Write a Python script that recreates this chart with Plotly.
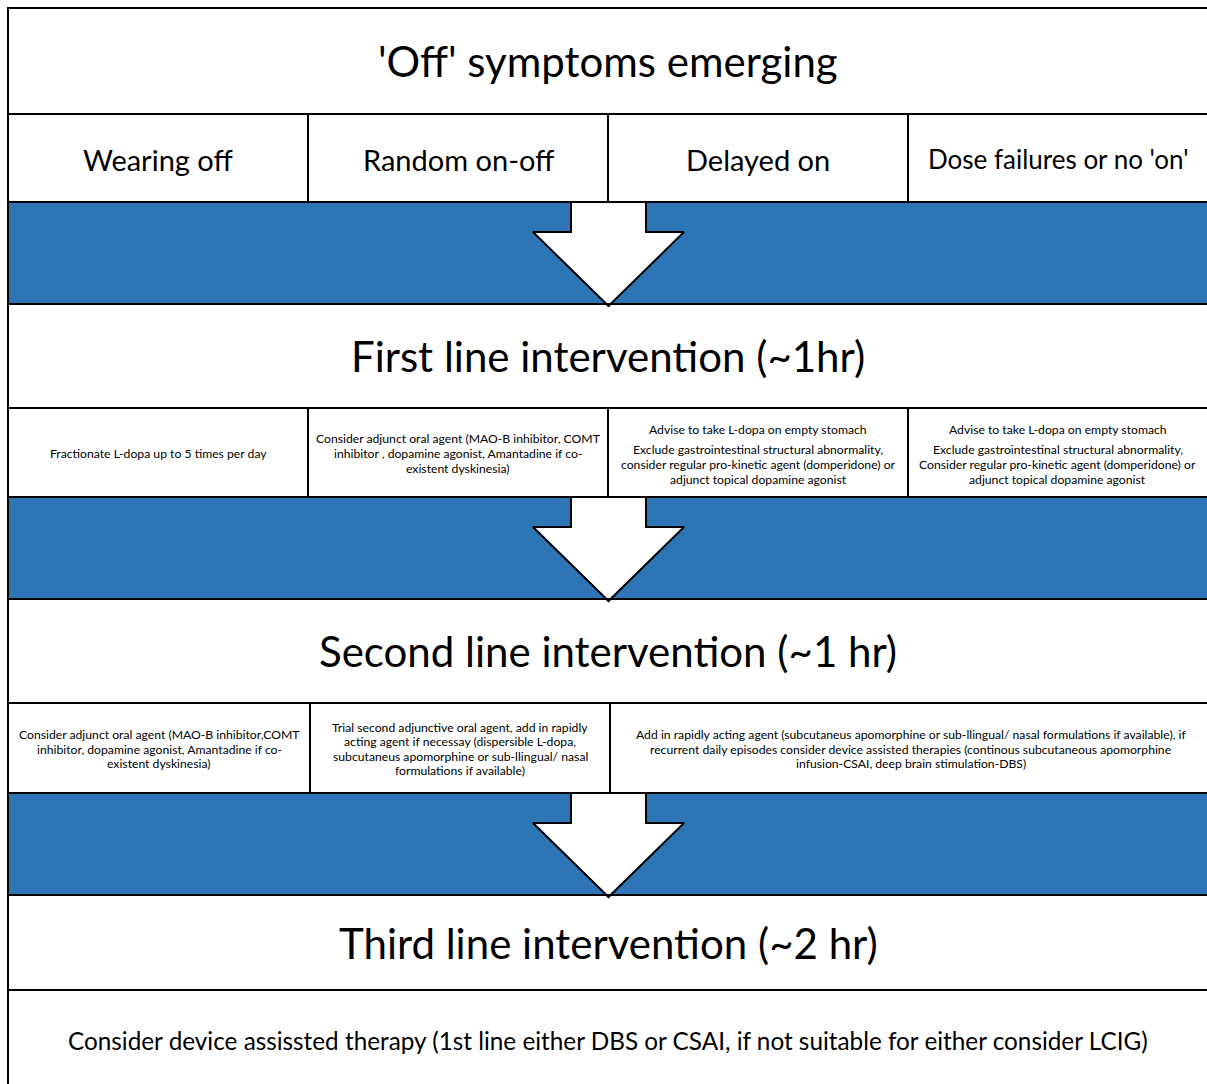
import plotly.graph_objects as go

# ---------------- content ----------------
stage_titles = [
    "'Off' symptoms emerging",
    "First line intervention (~1hr)",
    "Second line intervention (~1 hr)",
    "Third line intervention (~2 hr)",
]
symptom_types = ["Wearing off", "Random on-off", "Delayed on", "Dose failures or no 'on'"]

first_line_head = ["", "", "Advise to take L-dopa on empty stomach", "Advise to take L-dopa on empty stomach"]
first_line_body = [
    "Fractionate L-dopa up to 5 times per day",
    "Consider adjunct oral agent (MAO-B inhibitor, COMT<br>inhibitor , dopamine agonist, Amantadine if co-<br>existent dyskinesia)",
    "Exclude gastrointestinal structural abnormality,<br>consider regular pro-kinetic agent (domperidone) or<br>adjunct topical dopamine agonist",
    "Exclude gastrointestinal structural abnormality,<br>Consider regular pro-kinetic agent (domperidone) or<br>adjunct topical dopamine agonist",
]
second_line = [
    "Consider adjunct oral agent (MAO-B inhibitor,COMT<br>inhibitor, dopamine agonist, Amantadine if co-<br>existent dyskinesia)",
    "Trial second adjunctive oral agent, add in rapidly<br>acting agent if necessay (dispersible L-dopa,<br>subcutaneus apomorphine or sub-llingual/ nasal<br>formulations if available)",
    "Add in rapidly acting agent (subcutaneus apomorphine or sub-llingual/ nasal formulations if available), if<br>recurrent daily episodes consider device assisted therapies (continous subcutaneous apomorphine<br>infusion-CSAI, deep brain stimulation-DBS)",
]
third_line = "Consider device assissted therapy (1st line either DBS or CSAI, if not suitable for either consider LCIG)"

# ---------------- layout geometry (page pixel coordinates) ----------------
W, H = 1207, 1084
L, T = 8, 8
BLUE = "#2E75B6"
FONT = "Lato"
LW = 2

title_rows = [(8, 114), (304, 408), (599, 703), (895, 990)]
band_rows = [(202, 304), (497, 599), (793, 895)]
row_sym = (114, 202)
row_first = (408, 497)
row_second = (703, 793)
cols4 = [8, 308, 608, 908, 1207]
cols3 = [8, 310, 610, 1207]
XR = W + 10

fig = go.Figure()
shapes = []
ann = []

def hline(y):
    shapes.append(dict(type="line", x0=L - 1, x1=XR, y0=y, y1=y,
                       line=dict(color="black", width=LW), layer="above"))

def vline(x, y0, y1):
    shapes.append(dict(type="line", x0=x, x1=x, y0=y0, y1=y1,
                       line=dict(color="black", width=LW), layer="above"))

# blue bands
for (y0, y1) in band_rows:
    shapes.append(dict(type="rect", x0=L, x1=XR, y0=y0, y1=y1,
                       fillcolor=BLUE, line=dict(width=0), layer="below"))

# horizontal borders
ys = sorted({v for r in title_rows + band_rows + [row_sym, row_first, row_second] for v in r})
for y in ys:
    hline(y)
vline(L, T - 1, H + 10)

# column dividers
for x in cols4[1:-1]:
    vline(x, *row_sym)
    vline(x, *row_first)
for x in cols3[1:-1]:
    vline(x, *row_second)

# arrows (white, black outline)
cx = 608.5
shaft_half = 37.5
head_half = 75.5
for (y0, y1) in band_rows:
    shoulder = y0 + 30
    tip = y1 + 2
    xs = [cx - shaft_half, cx - shaft_half, cx - head_half, cx, cx + head_half, cx + shaft_half, cx + shaft_half]
    yv = [y0, shoulder, shoulder, tip, shoulder, shoulder, y0]
    fig.add_trace(go.Scatter(x=xs, y=yv, mode="lines", fill="toself", fillcolor="white",
                             line=dict(color="black", width=LW), hoverinfo="skip", showlegend=False))

def text(x, y, s, size):
    ann.append(dict(x=x, y=y, text=s, showarrow=False, xref="x", yref="y",
                    font=dict(family=FONT, size=size, color="black"),
                    align="center", xanchor="center", yanchor="middle"))

def multiline(x, yc, s, size, spacing):
    lines = s.split("<br>")
    n = len(lines)
    for k, ln in enumerate(lines):
        text(x, yc + (k - (n - 1) / 2) * spacing, ln, size)

SMALL = 12.2
SP = 14.6

# stage titles
for (y0, y1), s in zip(title_rows, stage_titles):
    text(608, (y0 + y1) / 2, s, 42)

# symptom types
sym_sizes = [29, 29, 29, 26]
for i, s in enumerate(symptom_types):
    text((cols4[i] + cols4[i + 1]) / 2 + (1 if i == 3 else 0), 159, s, sym_sizes[i])

# first line
for i in range(4):
    xc = (cols4[i] + cols4[i + 1]) / 2
    if first_line_head[i]:
        text(xc, 429, first_line_head[i], SMALL)
        multiline(xc, 464, first_line_body[i], SMALL, 15)
    else:
        multiline(xc, 453.5, first_line_body[i], SMALL, SP)

# second line
for i, s in enumerate(second_line):
    xc = (cols3[i] + cols3[i + 1]) / 2 + (2 if i == 2 else 0)
    multiline(xc, 749, s, SMALL, SP)

# third line
text(608, 1040, third_line, 24.3)

fig.update_layout(
    width=W, height=H,
    margin=dict(l=0, r=0, t=0, b=0),
    paper_bgcolor="white", plot_bgcolor="white",
    xaxis=dict(range=[0, W], visible=False, fixedrange=True),
    yaxis=dict(range=[H, 0], visible=False, fixedrange=True),
    shapes=shapes, annotations=ann, showlegend=False,
)

fig.write_html(
    "out.html",
    config={"displayModeBar": False, "staticPlot": True},
    post_script="document.body.style.margin='0';document.documentElement.style.overflow='hidden';",
)
